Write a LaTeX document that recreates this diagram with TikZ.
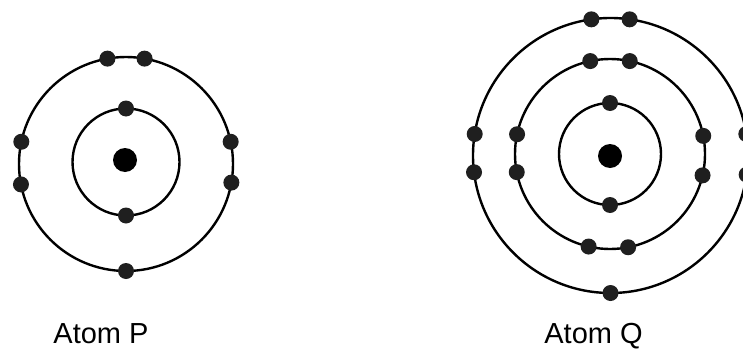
\documentclass[tikz,border=0pt]{standalone}
\usepackage{fontspec}
\setmainfont{Liberation Sans}
\begin{document}
\begin{tikzpicture}[
        x=1pt, y=1pt,
        shell/.style={
            circle,
            draw,
            line width=2.4pt,
            inner sep=0pt,
            outer sep=0pt
        },
        nucleus/.style={
            circle,
            fill=black,
            inner sep=0pt,
            minimum size=24pt
        },
        electron/.style={
            circle,
            fill=black!88,
            inner sep=0pt,
            minimum size=16pt
        },
        atomname/.style={
            anchor=base,
            inner sep=0pt,
            font=\fontsize{29}{34}\selectfont
        }
    ]

        \useasboundingbox (0,0) rectangle (743,349);

        % atom P
        \node[shell, minimum size=107pt] (shellP1) at (126,187) {};
        \node[shell, minimum size=214pt] (shellP2) at (126,185) {};
        \node[nucleus] (nucP) at (125,189) {};

        \node[electron] (eP1a) at (shellP1.90) {};
        \node[electron] (eP1b) at (shellP1.270) {};

        \node[electron] (eP2a) at (shellP2.100) {};
        \node[electron] (eP2b) at (shellP2.80) {};
        \node[electron] (eP2c) at (shellP2.168) {};
        \node[electron] (eP2d) at (shellP2.191) {};
        \node[electron] (eP2e) at (shellP2.12) {};
        \node[electron] (eP2f) at (shellP2.-10) {};
        \node[electron] (eP2g) at (shellP2.270) {};

        \node[atomname] (nameP) at (101,6) {Atom P};

        % atom Q
        \node[shell, minimum size=102pt] (shellQ1) at (610,195) {};
        \node[shell, minimum size=190pt] (shellQ2) at (610,195) {};
        \node[shell, minimum size=275pt] (shellQ3) at (610.5,193.5) {};
        \node[nucleus] (nucQ) at (610,193) {};

        \node[electron] (eQ1a) at (shellQ1.90) {};
        \node[electron] (eQ1b) at (shellQ1.270) {};

        \node[electron] (eQ2a) at (shellQ2.102) {};
        \node[electron] (eQ2b) at (shellQ2.78) {};
        \node[electron] (eQ2c) at (shellQ2.168) {};
        \node[electron] (eQ2d) at (shellQ2.191) {};
        \node[electron] (eQ2e) at (shellQ2.11) {};
        \node[electron] (eQ2f) at (shellQ2.-13) {};
        \node[electron] (eQ2g) at (shellQ2.257) {};
        \node[electron] (eQ2h) at (shellQ2.281) {};

        \node[electron] (eQ3a) at (shellQ3.98) {};
        \node[electron] (eQ3b) at (shellQ3.82) {};
        \node[electron] (eQ3c) at (shellQ3.171) {};
        \node[electron] (eQ3d) at (shellQ3.187) {};
        \node[electron] (eQ3e) at (shellQ3.9) {};
        \node[electron] (eQ3f) at (shellQ3.-8) {};
        \node[electron] (eQ3g) at (shellQ3.270) {};

        \node[atomname] (nameQ) at (593.5,6) {Atom Q};

    \end{tikzpicture}
\end{document}
